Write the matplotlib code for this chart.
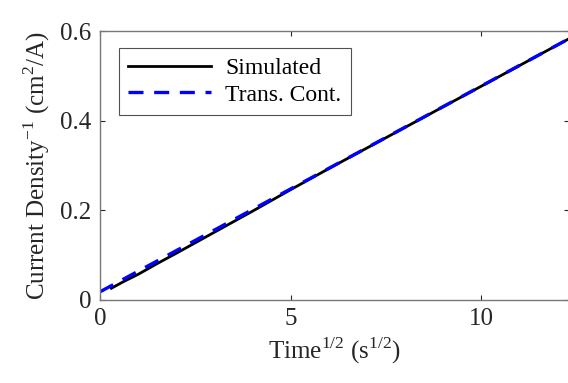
import numpy as np
import matplotlib
matplotlib.use('Agg')
import matplotlib.pyplot as plt

# values
sim_x = [0.3, 0.6, 1.0, 1.5, 2.0, 3.0, 4.0, 5.0, 6.0, 7.0, 8.0, 9.0, 10.0, 11.0, 12.3]
sim_y = [0.026, 0.040, 0.057, 0.081, 0.104, 0.151, 0.198, 0.246, 0.293, 0.339, 0.385, 0.431, 0.477, 0.523, 0.583]
tc_x = [0.0, 12.3]
tc_y = [0.018, 0.583]
labels = ['Simulated', 'Trans. Cont.']

plt.rcParams['font.family'] = ['Liberation Serif', 'DejaVu Serif']
plt.rcParams['mathtext.fontset'] = 'custom'
plt.rcParams['mathtext.rm'] = 'Liberation Serif'

fig = plt.figure(figsize=(5.68, 3.83), dpi=100)
ax = fig.add_axes([0.176, 0.217, 0.826, 0.702])

ax.plot(sim_x, sim_y, color='black', lw=2.0, label=labels[0])
ax.plot(tc_x, tc_y, color='#0000ff', lw=2.4, ls=(0, (4.5, 3.2)), label=labels[1])

ax.set_xlim(0, 12.3)
ax.set_ylim(0, 0.6)
ax.set_xticks([0, 5, 10])
ax.set_yticks([0, 0.2, 0.4, 0.6])
ax.set_yticklabels(['0', '0.2', '0.4', '0.6'])
ax.tick_params(direction='in', length=3.5, width=0.8, colors='#262626', labelsize=18,
               top=True, right=True, pad=6)
for s in ax.spines.values():
    s.set_color('#777777')
    s.set_linewidth(1.0)

ax.set_xlabel(r'Time$^{\mathrm{1/2}}$ (s$^{\mathrm{1/2}}$)', fontsize=18, color='#262626', labelpad=4)
ax.set_ylabel(r'Current Density$^{\mathrm{-1}}$ (cm$^{\mathrm{2}}$/A)', fontsize=18, color='#262626', labelpad=6)

leg = ax.legend(loc='upper left', bbox_to_anchor=(0.04, 0.935), borderaxespad=0, fontsize=17,
                frameon=True, fancybox=False, edgecolor='#262626', handlelength=3.5,
                borderpad=0.4, labelspacing=0.2, handletextpad=0.6)
leg.get_frame().set_linewidth(0.8)

fig.savefig('out.png', dpi=100)
